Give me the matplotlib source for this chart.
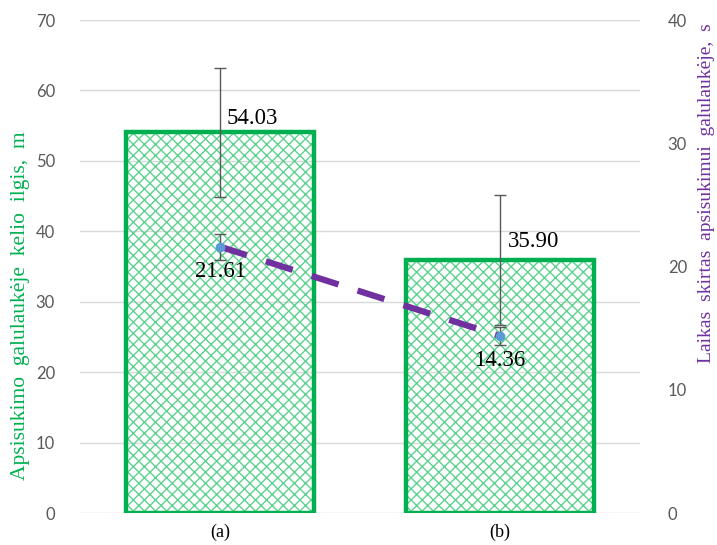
import matplotlib.pyplot as plt
import numpy as np

# data
categories = ['(a)', '(b)']
distance = [54.03, 35.90]        # m, left axis
distance_err = [9.1, 9.2]
turn_time = [21.61, 14.36]       # s, right axis
turn_time_err = [1.05, 0.7]

green = '#00B050'
purple = '#7030A0'
grey = '#595959'
serif = 'Liberation Serif'

plt.rcParams['hatch.linewidth'] = 1.0

fig = plt.figure(figsize=(7.17, 5.45), dpi=100)
ax = fig.add_axes([0.1116, 0.0587, 0.781, 0.9046])
x = np.arange(len(categories))

# hatched fill, then thick green outline on top
ax.bar(x, distance, width=0.67, color='none', edgecolor='#5DD28F', hatch='xxx', linewidth=0, zorder=2)
ax.bar(x, distance, width=0.67, color='none', edgecolor=green, linewidth=3.2, zorder=3)
ax.errorbar(x, distance, yerr=distance_err, fmt='none', ecolor=grey, elinewidth=1, capsize=4, capthick=1, zorder=4)

ax.set_xlim(-0.5, 1.5)
ax.set_ylim(0, 70)
ax.set_yticks(range(0, 71, 10))
ax.grid(axis='y', color='#D9D9D9', linewidth=1)
ax.set_axisbelow(True)
for s in ax.spines.values():
    s.set_visible(False)
ax.tick_params(length=0, labelsize=12, labelcolor=grey)
for lbl in ax.get_yticklabels():
    lbl.set_fontfamily('Lato')
ax.tick_params(axis='y', pad=18)
ax.set_xticks(x)
ax.set_xticklabels(categories, fontfamily=serif, fontsize=13, color='black')
ax.tick_params(axis='x', pad=8)

# bar values
ax.text(x[0] + 0.115, distance[0] + 2.0, f'{distance[0]:.2f}', fontfamily=serif, fontsize=16.5, ha='center', va='center', zorder=5)
ax.text(x[1] + 0.12, distance[1] + 2.7, f'{distance[1]:.2f}', fontfamily=serif, fontsize=16.5, ha='center', va='center', zorder=5)

# secondary axis: time
ax2 = ax.twinx()
ax2.set_ylim(0, 40)
ax2.set_yticks(range(0, 41, 10))
for s in ax2.spines.values():
    s.set_visible(False)
ax2.tick_params(length=0, labelsize=12, labelcolor=grey, pad=20)
for lbl in ax2.get_yticklabels():
    lbl.set_fontfamily('Lato')
ax2.plot(x, turn_time, color=purple, linewidth=4.5, dashes=(4.5, 3.2), solid_capstyle='butt', dash_capstyle='butt', zorder=3)
ax2.errorbar(x, turn_time, yerr=turn_time_err, fmt='none', ecolor=grey, elinewidth=1, capsize=4, capthick=1, zorder=4)
ax2.plot(x, turn_time, 'o', color='#5B9BD5', markersize=6, zorder=5)
for xi, v in zip(x, turn_time):
    ax2.text(xi, v - 2.0, f'{v:.2f}', fontfamily=serif, fontsize=16.5, ha='center', va='center', zorder=6)

# axis titles
fig.text(0.028, 0.44, 'Apsisukimo  galulaukėje  kelio  ilgis,  m', fontfamily=serif,
         fontsize=15.5, color=green, rotation=90, ha='center', va='center')
fig.text(0.985, 0.645, 'Laikas  skirtas  apsisukimui  galulaukėje,  s', fontfamily=serif,
         fontsize=14, color=purple, rotation=90, ha='center', va='center')

fig.savefig('out.png', dpi=100)
